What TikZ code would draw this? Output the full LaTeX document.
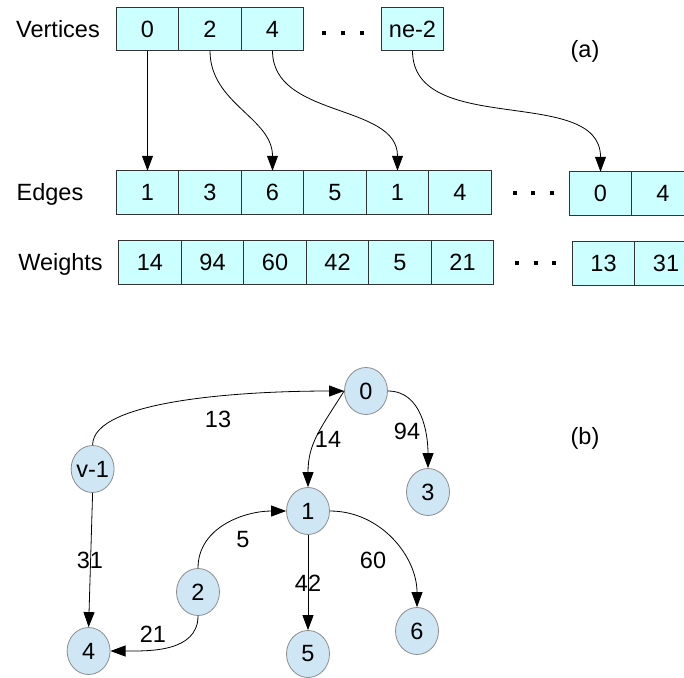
\documentclass[tikz,border=0pt]{standalone}
\usepackage{fontspec}
\setmainfont{Liberation Sans}
\usetikzlibrary{positioning,arrows.meta,shapes.geometric}
\definecolor{cellcyan}{HTML}{CCFFFF}
\definecolor{vtxblue}{HTML}{CFE7F5}
\begin{document}
\begin{tikzpicture}[x=1pt, y=-1pt, font=\fontsize{23.5}{27}\selectfont,
    cell/.style={draw=black!80, fill=cellcyan, line width=1pt, outer sep=0pt,
      minimum width=62.5pt, minimum height=43.5pt, inner sep=0pt},
    vtx/.style={ellipse, draw=black!45, fill=vtxblue, line width=0.8pt,
      minimum width=43pt, minimum height=47pt, inner sep=0pt},
    lbl/.style={inner sep=0pt},
    arr/.style={-{Triangle[length=15pt,width=11pt]}, line width=0.8pt}]
  \useasboundingbox (0,0) rectangle (684,677);
  % (a) the three arrays
  \node[lbl, anchor=base] (tv) at (58,37.2) {Vertices};
  \node[cell] (v0) at (147.5,29) {0};
  \node[cell, right=0pt of v0] (v1) {2};
  \node[cell, right=0pt of v1] (v2) {4};
  \node[cell] (vn) at (412.5,29) {ne-2};
  \node[lbl, anchor=base] (te) at (50,200.7) {Edges};
  \node[cell] (e0) at (147.5,192.5) {1};
  \node[cell, right=0pt of e0] (e1) {3};
  \node[cell, right=0pt of e1] (e2) {6};
  \node[cell, right=0pt of e2] (e3) {5};
  \node[cell, right=0pt of e3] (e4) {1};
  \node[cell, right=0pt of e4] (e5) {4};
  \node[cell] (e6) at (600.5,193.5) {0};
  \node[cell, right=0pt of e6] (e7) {4};
  \node[lbl, anchor=base] (tw) at (60.5,270.7) {Weights};
  \node[cell] (w0) at (150,262.5) {14};
  \node[cell, right=0pt of w0] (w1) {94};
  \node[cell, right=0pt of w1] (w2) {60};
  \node[cell, right=0pt of w2] (w3) {42};
  \node[cell, right=0pt of w3] (w4) {5};
  \node[cell, right=0pt of w4] (w5) {21};
  \node[cell] (w6) at (603.5,263.5) {13};
  \node[cell, right=0pt of w6] (w7) {31};
  \node[lbl] (ta) at (585,51) {(a)};
  % the gaps
  \foreach \x in {324,343,362} \fill (\x-2.3,30.7) rectangle ++(4.6,4.6);
  \foreach \x in {515,533,552} \fill (\x-2.3,190.7) rectangle ++(4.6,4.6);
  \foreach \x in {517,536,554} \fill (\x-2.3,260.7) rectangle ++(4.6,4.6);
  \draw[arr] (v0.south) -- (e0.north);
  \draw[arr] (v1.south) to[out=-90,in=90] (e2.north);
  \draw[arr] (v2.south) to[out=-90,in=90] (e4.north);
  \draw[arr] (vn.south) to[out=-90,in=90] (e6.north);
  % (b) the graph
  \node[vtx] (n0) at (366,391) {0};
  \node[vtx] (nv) at (92.6,469) {\makebox[20pt]{v-1}};
  \node[vtx] (n3) at (428,492) {3};
  \node[vtx] (n1) at (308,511) {1};
  \node[vtx] (n2) at (198,592) {2};
  \node[vtx] (n4) at (88.6,651) {4};
  \node[vtx] (n5) at (308,654) {5};
  \node[vtx] (n6) at (417,631) {6};
  \node[lbl] (tb) at (585,438) {(b)};
  \draw[arr] (nv.north) to[out=90,in=180,out looseness=0.45] (n0.west);
  \draw[arr] (n0.west) to[out=238,in=90,looseness=1.1] (n1.north);
  \draw[arr] (n0.east) to[out=0,in=90] (n3.north);
  \draw[arr] (nv.south) -- (n4.north);
  \draw[arr] (n2.north) to[out=90,in=180] (n1.west);
  \draw[arr] (n2.south) to[out=-90,in=0] (n4.east);
  \draw[arr] (n1.south) -- (n5.north);
  \draw[arr] (n1.east) to[out=0,in=90] (n6.north);
  \node[lbl] (l13) at (218,419) {13};
  \node[lbl] (l14) at (328,439) {14};
  \node[lbl] (l94) at (407,431) {94};
  \node[lbl] (l5) at (243,540) {5};
  \node[lbl] (l31) at (90,560) {31};
  \node[lbl] (l60) at (373,560) {60};
  \node[lbl] (l42) at (308,583) {42};
  \node[lbl] (l21) at (153,634) {21};
\end{tikzpicture}
\end{document}
